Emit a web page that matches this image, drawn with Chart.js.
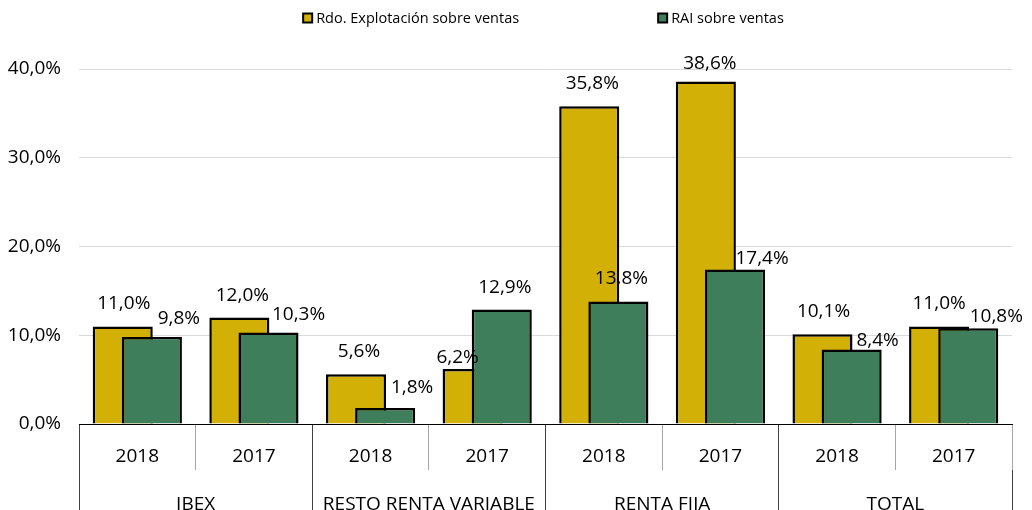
<!DOCTYPE html>
<html>
<head>
<meta charset="utf-8">
<script src="https://cdn.jsdelivr.net/npm/chart.js@4/dist/chart.umd.min.js"></script>
<style>
  html, body { margin: 0; padding: 0; background: #fff; }
  #wrap { width: 1032px; height: 510px; }
</style>
</head>
<body>
<div id="wrap"><canvas id="BarChart"></canvas></div>
<script>
// Datos del gráfico
var anios = ['2018', '2017', '2018', '2017', '2018', '2017', '2018', '2017'];
var grupos = ['IBEX', 'RESTO RENTA VARIABLE', 'RENTA FIJA', 'TOTAL'];
var rdoExplotacion = [11.0, 12.0, 5.6, 6.2, 35.8, 38.6, 10.1, 11.0];
var raiVentas = [9.8, 10.3, 1.8, 12.9, 13.8, 17.4, 8.4, 10.8];
var ticksY = [0, 10, 20, 30, 40];

// desplazamiento de las etiquetas [dx, dy] (movidas a mano en el original)
var ajusteEtiquetas = [
    [[1, 23], [3, 22], [3, 23], [-15, 11], [3, 23], [4, 18], [1, 23], [0, 23]],
    [[27, 18], [30, 18], [27, 20], [3, 22], [3, 23], [27, 11], [26, 9], [28, 12]]
];

var FUENTE = "'Open Sans', sans-serif";

function fmtPct(v) {
    return v.toFixed(1).replace('.', ',') + '%';
}

// la serie verde se pinta encima de la amarilla (solapamiento tipo Excel)
var solapePlugin = {
    id: 'solape',
    beforeDatasetDraw: function(chart, args) {
        if (args.index === 1) return false;
    },
    afterDatasetsDraw: function(chart) {
        chart.getDatasetMeta(1).controller.draw();
    }
};

var etiquetasPlugin = {
    id: 'etiquetas',
    afterDatasetsDraw: function(chart) {
        var ctx = chart.ctx;
        ctx.save();
        ctx.font = '19px ' + FUENTE;
        ctx.fillStyle = '#000';
        ctx.textAlign = 'center';
        ctx.textBaseline = 'middle';
        chart.data.datasets.forEach(function(ds, i) {
            var meta = chart.getDatasetMeta(i);
            meta.data.forEach(function(bar, j) {
                var aj = ajusteEtiquetas[i][j];
                ctx.fillText(fmtPct(ds.data[j]), bar.x + aj[0], bar.y - aj[1]);
            });
        });
        ctx.restore();
    }
};

var leyendaPlugin = {
    id: 'leyenda',
    afterDraw: function(chart) {
        var ctx = chart.ctx;
        var ds = chart.data.datasets;
        ctx.save();
        ctx.font = '14.5px ' + FUENTE;
        var caja = 9, sep = 4, hueco = 139;
        var anchos = ds.map(function(d) { return caja + sep + ctx.measureText(d.label).width; });
        var total = anchos[0] + hueco + anchos[1];
        var centro = (chart.chartArea.left + chart.chartArea.right) / 2 - 2;
        var x = centro - total / 2;
        var y = 18;
        ds.forEach(function(d, i) {
            ctx.fillStyle = d.backgroundColor;
            ctx.fillRect(x, y - caja / 2, caja, caja);
            ctx.lineWidth = 2;
            ctx.strokeStyle = '#000';
            ctx.strokeRect(x, y - caja / 2, caja, caja);
            ctx.fillStyle = '#000';
            ctx.textBaseline = 'middle';
            ctx.textAlign = 'left';
            ctx.fillText(d.label, x + caja + sep, y + 1);
            x += anchos[i] + hueco;
        });
        ctx.restore();
    }
};

document.addEventListener('DOMContentLoaded', function() {
    var ctx = document.getElementById('BarChart').getContext('2d');
    var BarChart = new Chart(ctx, {
        type: 'bar',
        data: {
            labels: anios,
            datasets: [{
                label: 'Rdo. Explotación sobre ventas',
                data: rdoExplotacion,
                backgroundColor: '#D2B006',
                borderColor: '#000',
                borderWidth: 2.5
            }, {
                label: 'RAI sobre ventas',
                data: raiVentas,
                backgroundColor: '#3E7E5A',
                borderColor: '#000',
                borderWidth: 2.5
            }]
        },
        options: {
            responsive: true,
            maintainAspectRatio: false,
            animation: false,
            categoryPercentage: 0.5,
            barPercentage: 2.06,
            layout: { padding: { top: 69, right: 20, left: 0, bottom: 0 } },
            plugins: {
                legend: { display: false },
                tooltip: { enabled: false }
            },
            scales: {
                x: {
                    offset: true,
                    grid: {
                        offset: true,
                        drawOnChartArea: false,
                        tickLength: 46,
                        color: function(c) { return c.index % 2 === 0 ? '#404040' : '#a6a6a6'; }
                    },
                    border: { color: '#000', width: 1 },
                    ticks: {
                        color: '#000',
                        font: { family: FUENTE, size: 19 },
                        padding: -25,
                        maxRotation: 0
                    },
                    afterFit: function(s) { s.height = 46; }
                },
                x2: {
                    type: 'category',
                    labels: grupos,
                    position: 'bottom',
                    offset: true,
                    grid: {
                        offset: true,
                        drawOnChartArea: false,
                        tickLength: 40,
                        color: '#404040'
                    },
                    border: { display: false },
                    ticks: {
                        color: '#000',
                        font: { family: FUENTE, size: 19 },
                        padding: -17,
                        maxRotation: 0
                    },
                    afterFit: function(s) { s.height = 40; }
                },
                y: {
                    min: 0,
                    max: 40,
                    afterBuildTicks: function(s) {
                        s.ticks = ticksY.map(function(v) { return { value: v }; });
                    },
                    grid: { color: '#d9d9d9', drawTicks: false },
                    border: { display: false },
                    ticks: {
                        color: '#000',
                        font: { family: FUENTE, size: 19 },
                        padding: 18,
                        callback: function(v) { return fmtPct(v); }
                    },
                    afterFit: function(s) { s.width = 79; }
                }
            }
        },
        plugins: [solapePlugin, etiquetasPlugin, leyendaPlugin]
    });
});
</script>
</body>
</html>
